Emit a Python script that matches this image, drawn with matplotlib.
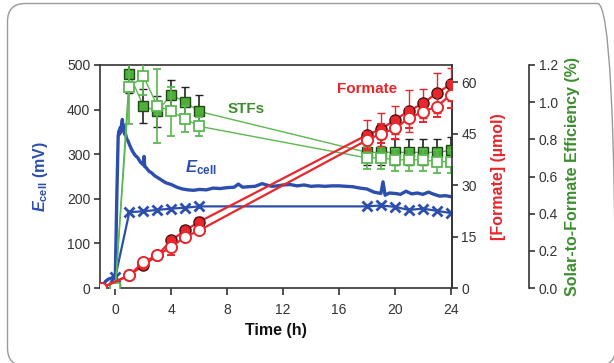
import matplotlib
matplotlib.use("Agg")
import matplotlib.pyplot as plt
from matplotlib.patches import FancyBboxPatch
from matplotlib.transforms import IdentityTransform

plt.rcParams['font.family'] = ['Liberation Sans', 'DejaVu Sans']
plt.rcParams['mathtext.fontset'] = 'custom'
plt.rcParams['mathtext.it'] = 'Liberation Sans:italic:bold'
plt.rcParams['mathtext.rm'] = 'Liberation Sans:bold'
plt.rcParams['mathtext.bf'] = 'Liberation Sans:bold'

# ---------------- data ----------------
# continuous cell voltage trace (mV)
trace_t = [-1.1, -0.9, -0.7, -0.5, -0.3, -0.1, 0.0, 0.1, 0.2, 0.25, 0.3, 0.35, 0.4, 0.45,
           0.5, 0.55, 0.6, 0.65, 0.7, 0.8, 0.9, 1.0, 1.2, 1.4, 1.6, 1.8, 2.0, 2.05, 2.1,
           2.2, 2.4, 2.6, 2.8, 3.0, 3.3, 3.6, 4.0, 4.4, 4.8, 5.2, 5.6, 6.0, 6.5, 7.0,
           7.5, 8.0, 8.5, 8.8, 9.1, 9.5, 10.0, 10.5, 10.8, 11.2, 11.6, 12.0, 12.5,
           13.0, 13.5, 14.0, 14.5, 15.0, 15.5, 16.0, 16.5, 17.0, 17.5, 18.0, 18.5,
           19.0, 19.15, 19.3, 19.6, 20.0, 20.4, 20.8, 21.2, 21.6, 22.0, 22.4, 22.8,
           23.2, 23.6, 24.0]
trace_E = [0, 5, 15, 20, 22, 25, 30, 200, 340, 352, 345, 360, 350, 368,
           378, 355, 365, 345, 350, 335, 330, 322, 308, 298, 292, 282, 276, 295, 272,
           270, 262, 258, 252, 248, 242, 236, 232, 226, 222, 220, 219, 221, 220, 224,
           223, 225, 226, 233, 226, 227, 228, 234, 231, 228, 229, 231, 232,
           229, 231, 228, 229, 228, 229, 229, 228, 227, 224, 222, 215,
           212, 238, 208, 213, 212, 210, 217, 211, 213, 210, 215, 210,
           206, 207, 205]

# cell voltage sampled (x markers)
ex_t = [0, 1, 2, 3, 4, 5, 6, 18, 19, 20, 21, 22, 23, 24]
ex_E = [25, 170, 172, 175, 178, 180, 183, 183, 185, 182, 175, 178, 173, 168]

# formate (umol)
fm_t = [-1, 1, 2, 3, 4, 5, 6, 18, 19, 20, 21, 22, 23, 24]
fm_filled = [0, 3.7, 6.6, 9.5, 13.9, 16.8, 19.3, 44.6, 46.3, 49.0, 51.6, 53.8, 56.8, 59.4]
fm_filled_err = [0, 0.5, 0.8, 0.8, 1.0, 1.2, 1.5, 4.4, 4.8, 4.0, 6.0, 4.3, 5.8, 4.8]
fm_open = [0, 3.7, 7.6, 9.5, 12.0, 14.9, 16.8, 43.1, 45.0, 46.5, 49.5, 51.4, 52.9, 56.3]
fm_open_err = [0, 0.6, 0.8, 0.8, 2.5, 1.2, 1.2, 2.5, 2.8, 3.0, 3.0, 3.0, 3.2, 3.9]

# solar-to-formate efficiency (%)
stf_t = [0, 1, 2, 3, 4, 5, 6, 18, 19, 20, 21, 22, 23, 24]
stf_filled = [0, 1.15, 0.98, 0.95, 1.04, 1.00, 0.95, 0.73, 0.73, 0.73, 0.73, 0.73, 0.73, 0.74]
stf_filled_err = [0, 0.10, 0.09, 0.085, 0.08, 0.08, 0.09, 0.07, 0.07, 0.07, 0.07, 0.07, 0.07, 0.07]
stf_open = [0, 1.08, 1.14, 0.98, 0.95, 0.91, 0.87, 0.70, 0.70, 0.69, 0.69, 0.69, 0.68, 0.68]
stf_open_err = [0, 0.20, 0.10, 0.20, 0.13, 0.07, 0.05, 0.06, 0.06, 0.06, 0.06, 0.06, 0.06, 0.06]

x_ticks = [0, 4, 8, 12, 16, 20, 24]
e_ticks = [0, 100, 200, 300, 400, 500]
fm_ticks = [0, 15, 30, 45, 60]
stf_ticks = [0.0, 0.2, 0.4, 0.6, 0.8, 1.0, 1.2]

# ---------------- style ----------------
blue = '#2c4ead'
red = '#e8262c'
red_dark = '#4a0f0f'
green_line = '#5cb850'
green_face = '#4fae3a'
green_edge = '#1f4a18'
green_text = '#3b8e2e'
axis_col = '#333333'

fig = plt.figure(figsize=(6.14, 3.63), dpi=100)
ax = fig.add_axes([100/614, 1-288/363, 351.5/614, 223/363])

border = FancyBboxPatch((7.5, -3), 608, 363.5 - 6 + 3 + 2,
                        boxstyle="round,pad=0,rounding_size=18",
                        transform=IdentityTransform(), fill=False,
                        edgecolor='#9a9a9a', linewidth=1.0, clip_on=False)
fig.add_artist(border)

# ---- left axis: E_cell ----
ax.plot(trace_t, trace_E, color=blue, lw=2.4, zorder=3)
ax.plot(ex_t, ex_E, color=blue, lw=1.6, marker='x', ms=6.5, mew=2.0, zorder=3)
ax.set_xlim(-1.1, 24.05)
ax.set_ylim(0, 500)
ax.set_xticks(x_ticks)
ax.set_yticks(e_ticks)
ax.set_xlabel('Time (h)', fontsize=11.5, fontweight='bold', color='#111111', labelpad=4)
ax.set_ylabel(r'$E_{\mathrm{cell}}$ (mV)', fontsize=11.5, fontweight='bold', color=blue, labelpad=12)

# ---- STF axis ----
ax3 = ax.twinx()
ax3.spines['right'].set_position(('axes', 1.2205))
for s in ['top', 'left', 'bottom']:
    ax3.spines[s].set_visible(False)
ax3.errorbar(stf_t, stf_filled, yerr=stf_filled_err, color=green_line, lw=1.0,
             marker='s', ms=7.5, mfc=green_face, mec=green_edge, mew=1.0,
             ecolor='#222222', elinewidth=1.2, capsize=3, capthick=1.2, zorder=3)
ax3.errorbar(stf_t, stf_open, yerr=stf_open_err, color=green_line, lw=1.0,
             marker='s', ms=7.5, mfc='white', mec=green_line, mew=1.3,
             ecolor=green_line, elinewidth=1.2, capsize=3, capthick=1.2, zorder=4)
ax3.set_ylim(0, 1.2)
ax3.set_yticks(stf_ticks)
ax3.set_yticklabels(['%.1f' % v for v in stf_ticks])
ax3.set_ylabel('Solar-to-Formate Efficiency (%)', fontsize=11.5, fontweight='bold',
               color=green_text, labelpad=5)

# ---- formate axis ----
ax2 = ax.twinx()
for s in ['top', 'left', 'bottom']:
    ax2.spines[s].set_visible(False)
ax2.errorbar(fm_t, fm_filled, yerr=fm_filled_err, color=red, lw=1.6,
             marker='o', ms=8, mfc=red, mec=red_dark, mew=1.0,
             ecolor=red, elinewidth=1.0, capsize=3, capthick=1.0, zorder=3)
ax2.errorbar(fm_t, fm_open, yerr=fm_open_err, color=red, lw=1.6,
             marker='o', ms=8, mfc='white', mec=red, mew=1.4,
             ecolor=red, elinewidth=1.0, capsize=3, capthick=1.0, zorder=4)
ax2.set_ylim(0, 65)
ax2.set_yticks(fm_ticks)
ax2.set_ylabel('[Formate] (µmol)', fontsize=11.5, fontweight='bold', color=red, labelpad=10)

for a in (ax, ax2, ax3):
    for s in a.spines.values():
        s.set_color(axis_col)
        s.set_linewidth(1.2)
    a.tick_params(axis='y', direction='out', length=4, width=1.2,
                  colors=axis_col, labelsize=10, pad=3)
ax.tick_params(axis='x', direction='out', length=5, width=1.2,
               colors=axis_col, labelsize=10, pad=6)

ax.set_zorder(1)
ax3.set_zorder(2)
ax2.set_zorder(3)

# annotations
ax.text(9.36, 401, 'STFs', color=green_text, fontsize=11, fontweight='bold',
        ha='center', va='center', zorder=6)
ax2.text(18.0, 446 * 65 / 500, 'Formate', color=red, fontsize=11, fontweight='bold',
         ha='center', va='center', zorder=6)
ax.text(5.0, 260, r'$E_{\mathrm{cell}}$', color=blue, fontsize=12,
        ha='left', va='baseline', zorder=6)

fig.savefig('out.png', dpi=100)
